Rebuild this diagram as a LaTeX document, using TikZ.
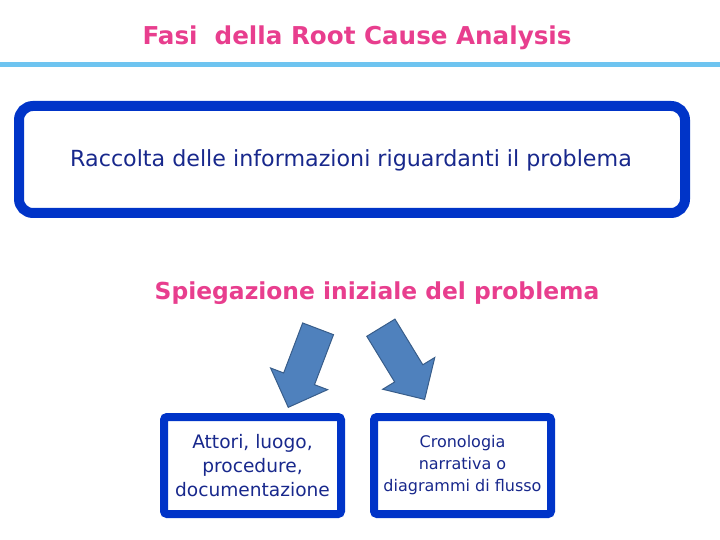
\documentclass[tikz,border=0pt]{standalone}
\usepackage{fontspec}
\setmainfont{DejaVu Sans}
\usepackage{xcolor}
\usepackage{tikz}
\usetikzlibrary{arrows.meta,positioning,shapes.arrows}
\definecolor{rcapink}{RGB}{232,62,142}
\definecolor{rulecyan}{RGB}{110,196,240}
\definecolor{frameblue}{RGB}{0,52,200}
\definecolor{inkblue}{RGB}{24,40,140}
\definecolor{arrowfill}{RGB}{79,129,189}
\definecolor{arrowedge}{RGB}{56,93,138}
\tikzset{
  heading/.style={font=\bfseries\fontsize{23.4}{28}\selectfont,text=rcapink},
  bigframe/.style={draw=frameblue,line width=10pt,rounded corners=14pt,
    minimum width=666pt,minimum height=107pt,inner sep=0pt},
  smallframe/.style={draw=frameblue,line width=8pt,rounded corners=3pt,
    minimum width=177pt,minimum height=97pt,inner sep=0pt,align=center,text=inkblue},
  blockarrow/.style={single arrow,draw=arrowedge,fill=arrowfill,line width=1pt,
    inner xsep=0pt,inner ysep=16pt,minimum height=84pt,
    single arrow head extend=14pt,anchor=tip}
}

\begin{document}
\begin{tikzpicture}[x=1pt,y=-1pt]
\useasboundingbox (0,0) rectangle (720,540);

\node[heading,font=\bfseries\fontsize{24.6}{28}\selectfont] (title) at (357,38)
  {Fasi\ \ della Root Cause Analysis};
\draw[rulecyan,line width=5pt] (0,65) -- (720,65);

\node[bigframe] (raccolta) at (352,159.5) {};
\node[text=inkblue,font=\fontsize{22.2}{26}\selectfont] (raccoltatxt) at (351,160)
  {Raccolta delle informazioni riguardanti il problema};

\node[heading] (spiegazione) at (377,293) {Spiegazione iniziale del problema};

\node[blockarrow,rotate=249.2] (leftarrow) at (288,408) {};
\node[blockarrow,rotate=-58.6] (rightarrow) at (425,400) {};

\node[smallframe,font=\fontsize{18.6}{24}\selectfont] (attori) at (252.5,465.5)
  {Attori, luogo,\\procedure,\\documentazione};
\node[smallframe,font=\fontsize{16}{22}\selectfont] (cronologia) at (462.5,465.5)
  {Cronologia\\narrativa o\\diagrammi di flusso};

\end{tikzpicture}
\end{document}
